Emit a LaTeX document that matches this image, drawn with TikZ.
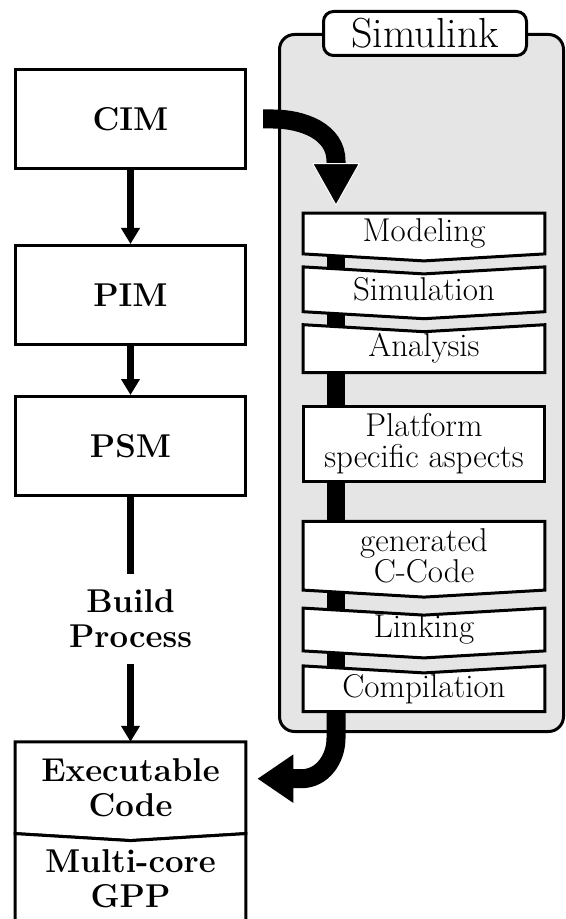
\documentclass[tikz,border=0pt]{standalone}
\usetikzlibrary{positioning,arrows.meta,backgrounds}

\tikzset{
  mdatext/.style={minimum width=115pt,minimum height=49.5pt,inner sep=0pt,align=center,font=\fontsize{16.5}{17.5}\selectfont\bfseries},
  mdabox/.style={mdatext,draw,line width=1.5pt,fill=white},
  slstep/.style={minimum width=120.5pt,inner sep=0pt,align=center,font=\fontsize{16.5}{15.5}\selectfont},
  stepline/.style={draw,line width=1.5pt,fill=white,line join=miter},
  thinarrow/.style={line width=3.5pt,-{Triangle[length=8pt,width=9pt]}},
  bigarrow/.style={line width=9.5pt},
}

\begin{document}
\begin{tikzpicture}[x=0.5pt,y=-0.5pt]
\useasboundingbox (0,0) rectangle (566,919);

% model levels
\node[mdabox] (cim) at (130.5,119) {CIM};
\node[mdabox,below=37pt of cim] (pim) {PIM};
\node[mdabox,below=24.5pt of pim] (psm) {PSM};
\node[mdatext,fill=white,minimum height=44.5pt,below=38.5pt of psm] (build) {Build\\Process};
\node[mdatext,minimum height=45.5pt,below=39pt of build] (exec) {Executable\\Code};
\node[mdatext,minimum height=45pt,below=0pt of exec] (gpp) {Multi-core\\GPP};

% simulink steps
\node[slstep,minimum height=20pt] (model) at (424,233.5) {Modeling};
\node[slstep,minimum height=22pt,below=6.5pt of model] (simu) {Simulation};
\node[slstep,minimum height=23.5pt,below=6.5pt of simu] (anal) {Analysis};
\node[slstep,minimum height=37pt,below=17pt of anal] (plat) {Platform\\specific aspects};
\node[slstep,minimum height=34pt,below=20pt of plat] (gen) {generated\\C-Code};
\node[slstep,minimum height=21pt,below=9pt of gen] (link) {Linking};
\node[slstep,minimum height=22.5pt,below=7.5pt of link] (comp) {Compilation};

\node[draw,line width=1.5pt,fill=white,rounded corners=5pt,minimum width=101.5pt,minimum height=22pt,inner sep=0pt,font=\fontsize{21}{21}\selectfont] (slk) at (425,33.5) {Simulink};

\coordinate (bartop) at ([xshift=-44pt,yshift=3.5pt]model.north);
\coordinate (barbot) at (bartop |- comp.south);

\begin{scope}[on background layer]
  \draw[line width=1.5pt,fill=black!10,rounded corners=7.5pt] (279.5,34.5) rectangle (563.5,731.5);
  \draw[line width=9pt] ([yshift=-4pt]bartop) -- (barbot);
  \foreach \n/\topd/\botd in {model/0/1,simu/1/1,anal/1/0,plat/0/0,gen/0/1,link/1/1,comp/1/0,exec/0/1,gpp/1/0}
    \path[stepline] (\n.north west) -- ([yshift=-\topd*3.5pt]\n.north) -- (\n.north east)
      -- (\n.south east) -- ([yshift=-\botd*3.5pt]\n.south) -- (\n.south west) -- cycle;
\end{scope}

% connectors
\draw[thinarrow] (cim) -- (pim);
\draw[thinarrow] (pim) -- (psm);
\draw[line width=3.5pt] (psm) -- (build);
\draw[thinarrow] (build) -- (exec);

\coordinate (exectip) at ([xshift=5.75pt,yshift=4.5pt]exec.east);
\draw[bigarrow,-{Triangle[length=21.5pt,width=24pt,color=white,fill=black,line width=0.5pt]}]
  ([xshift=8pt]cim.east) -- ++(10,0) to[out=0,in=90] ([yshift=22.5pt]bartop) -- (bartop);
\draw[bigarrow,-{Triangle[length=18pt,width=23pt]}]
  ([yshift=-0.75pt]barbot) -- ++(0,25) to[out=-90,in=0] ([xshift=22pt]exectip) -- (exectip);

\end{tikzpicture}
\end{document}
